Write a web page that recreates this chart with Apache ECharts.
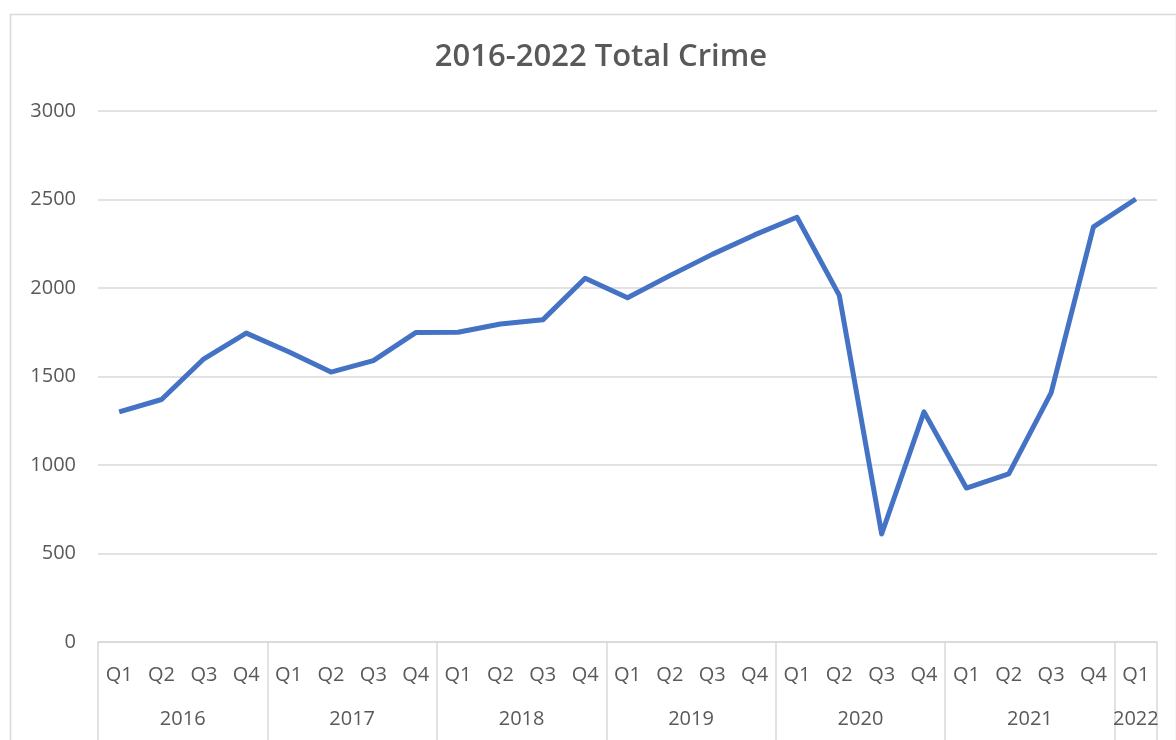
<!DOCTYPE html>
<html>
<head>
<meta charset="utf-8">
<style>
html,body{margin:0;padding:0;background:#fff;}
#chart{width:1176px;height:740px;}
</style>
<script src="https://cdn.jsdelivr.net/npm/echarts@6/dist/echarts.min.js"></script>
</head>
<body>
<div id="chart"></div>
<script>
const titleText = '2016-2022 Total Crime';
const quarters = ['Q1','Q2','Q3','Q4','Q1','Q2','Q3','Q4','Q1','Q2','Q3','Q4','Q1','Q2','Q3','Q4','Q1','Q2','Q3','Q4','Q1','Q2','Q3','Q4','Q1'];
const years = ['2016','2017','2018','2019','2020','2021','2022'];
const quartersPerYear = [4,4,4,4,4,4,1];
const totalCrime = [1300,1370,1600,1745,1640,1525,1590,1748,1750,1797,1820,2055,1945,2070,2190,2300,2400,1958,610,1300,870,950,1408,2345,2503];
const yTicks = [0,500,1000,1500,2000,2500,3000];

// year label centre positions in "category band" units and group start indices
const yearCenters = {};
const groupStarts = new Set();
let acc = 0;
years.forEach((y, i) => {
  groupStarts.add(acc);
  yearCenters[(acc + quartersPerYear[i] / 2).toFixed(1)] = y;
  acc += quartersPerYear[i];
});

const textColor = '#595959';
const fontFam = '"Open Sans", "Liberation Sans", sans-serif';
const chart = echarts.init(document.getElementById('chart'));
chart.setOption({
  backgroundColor: '#fff',
  animation: false,
  graphic: [{
    type: 'rect', left: 8, top: 12,
    shape: { width: 1166, height: 760 },
    style: { fill: 'none', stroke: '#d9d9d9', lineWidth: 1.5 }
  }],
  title: {
    text: titleText, left: 596, textAlign: 'center', top: 37,
    textStyle: { color: textColor, fontFamily: fontFam, fontSize: 31, fontWeight: 600 }
  },
  grid: { left: 98, right: 19, top: 111, bottom: 98, containLabel: false },
  xAxis: [{
    type: 'category', data: quarters, boundaryGap: true, position: 'bottom',
    axisLine: { show: true, lineStyle: { color: '#d9d9d9', width: 1.5 } },
    axisTick: { show: true, length: 98, interval: (i) => groupStarts.has(i), lineStyle: { color: '#d9d9d9', width: 1.5 } },
    axisLabel: { interval: 0, margin: 23, color: textColor, fontFamily: fontFam, fontSize: 20 },
    splitLine: { show: false }
  }, {
    type: 'value', position: 'bottom', min: 0, max: quarters.length, interval: 0.5,
    axisLine: { show: false }, axisTick: { show: false }, splitLine: { show: false },
    axisLabel: {
      margin: 67, color: textColor, fontFamily: fontFam, fontSize: 20,
      showMinLabel: true, showMaxLabel: true,
      formatter: (v) => yearCenters[Number(v).toFixed(1)] || ''
    }
  }],
  yAxis: {
    type: 'value', min: yTicks[0], max: yTicks[yTicks.length - 1], interval: yTicks[1] - yTicks[0],
    axisLine: { show: false }, axisTick: { show: false },
    splitLine: { lineStyle: { color: '#d9d9d9', width: 1.5 } },
    axisLabel: { margin: 22, color: textColor, fontFamily: fontFam, fontSize: 20, formatter: (v) => String(v) }
  },
  series: [{
    type: 'line', xAxisIndex: 0, data: totalCrime,
    showSymbol: false, symbol: 'none',
    lineStyle: { color: '#4472C4', width: 5, join: 'round' },
    itemStyle: { color: '#4472C4' }
  }]
});
</script>
</body>
</html>
